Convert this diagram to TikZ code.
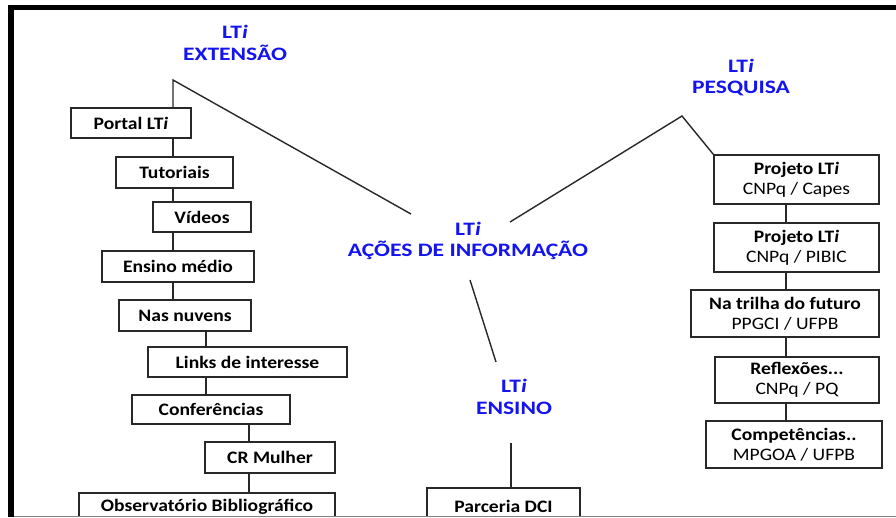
\documentclass[tikz,border=0pt]{standalone}
\usepackage{fontspec}
\setmainfont{Carlito}
\newfontfamily\boxfont{Carlito}[FakeStretch=1.12]
\newfontfamily\headfont{Carlito}[FakeStretch=1.24]
\definecolor{lblue}{RGB}{20,20,240}
\definecolor{lineg}{RGB}{40,40,40}
\tikzset{
  box/.style={draw=lineg, line width=1.4pt, rectangle, inner sep=0pt, align=center,
    font=\boxfont\fontsize{17.5}{20}\selectfont\bfseries},
  head/.style={text=lblue, align=center, inner sep=0pt, font=\headfont\fontsize{19}{21.5}\selectfont\bfseries},
  conn/.style={draw=lineg, line width=1.4pt}
}
\newcommand{\LTi}{LT\textit{i}}
\begin{document}
\begin{tikzpicture}[x=1pt,y=-1pt]
\useasboundingbox (0,0) rectangle (896,517);
\fill[white] (0,0) rectangle (896,517);
% frame
\fill[black] (8,5) rectangle (896,10);
\fill[black] (8,5) rectangle (14,517);
\draw[gray, line width=0.8pt] (14,516) -- (896,516);

\begin{scope}
\clip (14,10) rectangle (896,515.5);
% headings
\node[head] (hext) at (235,43) {\LTi\\EXTENSÃO};
\node[head] (hcen) at (468,241) {\LTi\\AÇÕES DE INFORMAÇÃO};
\node[head] (hpes) at (741,77.5) {\LTi\\PESQUISA};
\node[head] (hens) at (514,397) {\LTi\\ENSINO};

% left column
\node[box, minimum width=120, minimum height=30] (portal) at (131,123) {Portal \LTi};
\node[box, minimum width=117, minimum height=31] (tut) at (174.5,172.5) {Tutoriais};
\node[box, minimum width=98, minimum height=30] (vid) at (202,217) {Vídeos};
\node[box, minimum width=152, minimum height=31] (ens) at (178,266.5) {Ensino médio};
\node[box, minimum width=132, minimum height=31] (nuv) at (185,315.5) {Nas nuvens};
\node[box, minimum width=199, minimum height=30] (links) at (247.5,362) {Links de interesse};
\node[box, minimum width=158, minimum height=29] (conf) at (211,409.5) {Conferências};
\node[box, minimum width=130, minimum height=31] (cr) at (270,457.5) {CR Mulher};
\node[box, minimum width=256, minimum height=28] (obs) at (207,507) {Observatório Bibliográfico};

% right column
\node[box, minimum width=165, minimum height=49] (p1) at (796.5,179.5) {Projeto \LTi\\\mdseries CNPq / Capes};
\node[box, minimum width=165, minimum height=49] (p2) at (796.5,247.5) {Projeto \LTi\\\mdseries CNPq / PIBIC};
\node[box, minimum width=188, minimum height=47] (p3) at (785,313.5) {Na trilha do futuro\\\mdseries PPGCI / UFPB};
\node[box, minimum width=164, minimum height=46] (p4) at (797,380) {Reflexões...\\\mdseries CNPq / PQ};
\node[box, minimum width=176, minimum height=47] (p5) at (794,444.5) {Competências..\\\mdseries MPGOA / UFPB};

% ensino
\node[box, minimum width=153, minimum height=36] (parc) at (503.5,506) {Parceria DCI};

% coordinates
\coordinate (apexE) at (173,80);
\coordinate (cenW) at (411,214);
\coordinate (cenE) at (510,222);
\coordinate (apexP) at (682,116);
\coordinate (cenS) at (470,280);
\coordinate (ensN) at (496,362);
\coordinate (ensS) at (511,443);
\coordinate (xa) at (206,0);
\coordinate (xb) at (249,0);
\coordinate (xr) at (786,0);

% connectors
\draw[conn] (cenW) -- (apexE) -- (apexE |- portal.north);
\draw[conn] (apexE |- portal.south) -- (apexE |- tut.north);
\draw[conn] (apexE |- tut.south) -- (apexE |- vid.north);
\draw[conn] (apexE |- vid.south) -- (apexE |- ens.north);
\draw[conn] (apexE |- ens.south) -- (apexE |- nuv.north);
\draw[conn] (xa |- nuv.south) -- (xa |- links.north);
\draw[conn] (xa |- links.south) -- (xa |- conf.north);
\draw[conn] (xb |- conf.south) -- (xb |- cr.north);
\draw[conn] (xb |- cr.south) -- (xb |- obs.north);

\draw[conn] (cenE) -- (apexP) -- (p1.north west);
\draw[conn] (xr |- p1.south) -- (xr |- p2.north);
\draw[conn] (xr |- p2.south) -- (xr |- p3.north);
\draw[conn] (xr |- p3.south) -- (xr |- p4.north);
\draw[conn] (xr |- p4.south) -- (xr |- p5.north);

\draw[conn] (cenS) -- (ensN);
\draw[conn] (ensS) -- (ensS |- parc.north);
\end{scope}
\end{tikzpicture}
\end{document}
